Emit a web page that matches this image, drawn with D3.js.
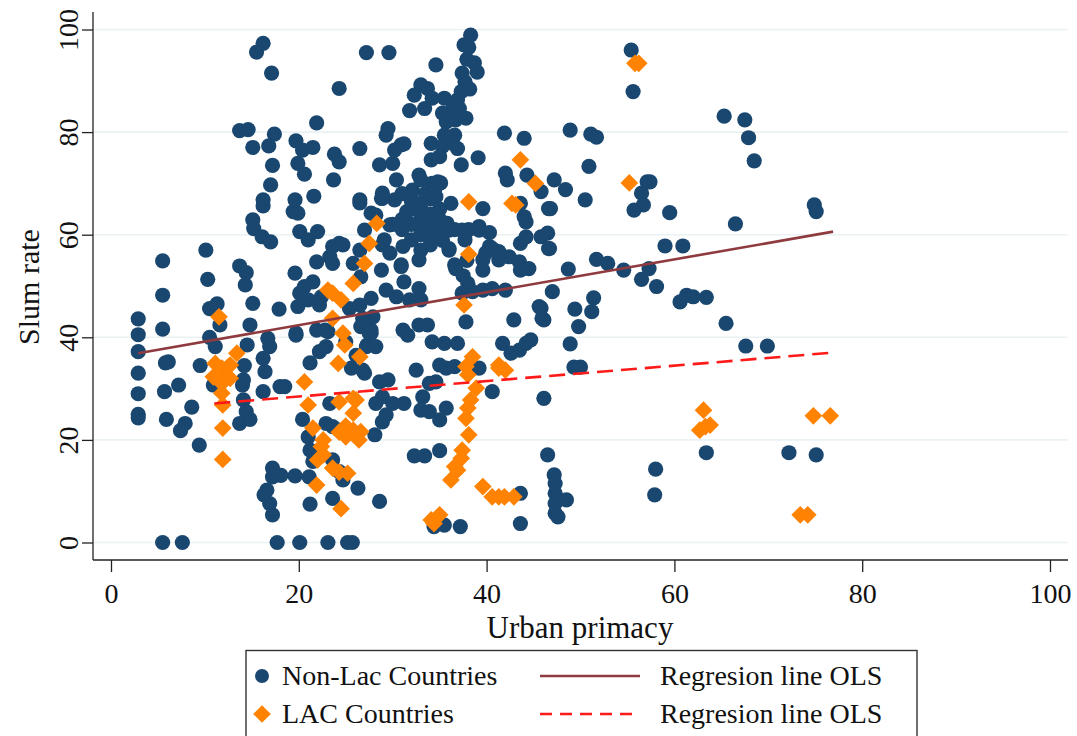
<!DOCTYPE html>
<html>
<head>
<meta charset="utf-8">
<script src="https://cdn.jsdelivr.net/npm/d3@7"></script>
<style>
    body { margin: 0; background: #fff; }
    svg { display: block; font-family: "Liberation Serif", "DejaVu Serif", serif; }
</style>
</head>
<body>
<div id="chart"></div>
<script>
// data: [urban primacy, slum rate]
const nonLac = [
    [2.9,43.6],[2.9,40.5],[2.9,37.2],[2.9,33],[2.9,29],[2.9,25],[2.9,24.3],
    [5.5,54.9],[5.5,48.2],[5.5,41.6],[5.8,35],[6.1,35.2],[5.7,29.4],[7.2,30.7],[5.9,24],[8.6,26.4],[7.9,23.2],[7.4,21.8],[9.4,19],
    [5.5,0],[7.6,0],[17.7,0],[20.1,0],[23.1,0],[25.2,0],[25.7,0],
    [17.2,14.5],[17.2,12.8],[18.1,13.1],[19.6,13],[21.1,12.8],[16.6,10.2],[16.3,9.3],[16.9,7.6],[17.2,5.4],[21.2,7.5],[23.6,8.6],
    [20.4,24],[21,20.6],[21.2,18],[22.9,23.2],[23.6,22.6],[24.3,21.9],[23.3,27.1],[21.5,15.8],[23.6,16.1],[24.3,13.8],
    [14,30.7],[14.1,27.8],[14.4,25.5],[13.7,23.2],[14.8,24],[16.2,29.4],
    [10.1,57],[10.3,51.3],[10.5,45.6],[11.3,46.5],[11.6,42.4],[10.5,40],[11.1,38.2],[9.5,34.5],[10.9,30.7],
    [13.7,53.9],[14.4,52.6],[14.3,50.2],[15.1,46.6],[14.8,42.4],[14.5,38.5],[14.2,34.5],[14.1,31.7],
    [16.2,65.6],[15.1,62.9],[15.2,61.2],[16.1,59.6],[17,58.6],
    [17.9,45.5],[19.7,40.4],[16.9,38.2],[16.7,39.8],[16.2,35.9],[16.4,33.3],[18,30.4],[18.5,30.4],[21.2,35],[22.2,37.2],[23.1,41.1],[22.9,38.2],
    [19.4,64.5],[19.9,64.2],[20.1,60.6],[21,59],[22,60.6],[21.9,54.7],[23.6,57.7],[24.3,58.3],[23.3,55.7],[23.6,54.4],
    [20.1,48.6],[20.6,49.9],[21,47.3],[21.5,50.8],[22.2,46.3],[22.4,47.9],[19.9,46],[19.7,40.8],
    [16.2,97.3],[15.5,95.6],[17.1,91.5],[24.3,88.5],[13.7,80.3],[14.6,80.5],[17.4,79.6],[15.1,77],[16.8,77.3],[19.7,78.3],
    [20.4,76.5],[21.5,77],[21.9,81.8],[17.2,73.5],[19.9,73.9],[20.6,71.8],[23.8,75.7],[24.3,74.2],[23.7,70.7],[17,69.7],
    [21.6,67.5],[16.2,66.8],[19.6,66.8],
    [38.3,98.9],[37.6,97],[38.1,96.5],[37.9,94.2],[38.7,93.5],[39,91.7],[37.4,91.5],[37.7,89.8],[38.2,88.4],[37.3,87.9],
    [36.9,86.3],[37.1,84.6],[37.8,82.7],[36.7,82.4],[36.4,84.6],
    [27.2,95.5],[29.6,95.5],[34.6,93.1],
    [33,89.2],[33.7,88.5],[32.3,87.2],[33.4,84.6],[31.8,84.2],[34.2,86.6],[35.5,86.6],[35.3,83.7],[35.7,82],[36.6,79.4],[35.5,79.4],
    [29.5,80.7],[29.3,79.4],[30.9,77.5],[30.2,76.5],[34.1,77.8],[35.3,77.2],[36.9,76.8],[26.5,76.8],[39.1,75],[28.6,73.6],
    [30,73.9],[34.1,74.6],[35,75.2],[37.3,73.6],[30.4,70.7],[32.8,71.6],[34.2,70],[35.1,70.1],[28.9,68.1],[32.1,68.7],[26.5,66.8],
    [41.9,79.8],[44,78.8],[42.2,70.7],[44.3,71.6],[47.2,70.7],[45.8,68.4],
    [31.2,77.7],[33,70.7],[34.8,70.3],[36.4,77.8],[42,72],[28.8,67.1],[30.2,66.8],[36.2,66.1],[39.6,65.1],[34.6,67.4],
    [28.2,63.8],[29.7,61.9],[36,60.9],[37.4,60.9],[39.2,61.6],[35.3,58.9],[36,57],[40.3,57.7],[39.6,55.1],[41.3,55.1],
    [31.1,57.7],[29.1,59],[30.9,54.1],[32.8,55.1],[36.6,54.1],
    [31,68],[32,67],[33,66],[34,67],[32,65],[33,64],[34,64],[35,65],[31,63],[32,62],[33,62],[34,62],[35,63],
    [33,60],[34,60],[32,59],[34,58],[33,57],[35,61],[31,61],[30,62],[32,66.5],[33.5,68],[34.5,69],[31.5,64.5],
    [26.5,66.2],[28.9,67.1],[35.8,62.2],[36.6,61],[38.1,61],[39.2,60.9],[40.3,60.4],[35.1,59.3],[36,57.3],[36.7,53.4],
    [39.6,53.1],[39.9,56.4],[40.6,57.3],[41.3,56.7],[42.4,55.7],[43.5,54.7],[44.5,53.4],[43.6,53.1],[43.6,58.3],[44.2,59.6],
    [45.8,59.6],[46.5,60.3],[46.6,57.3],[46.6,65.1],[44,63.5],[44.2,62.5],[43.6,66.1],
    [37.7,59],[37.9,55],[37.5,52],[38,50.5],
    [24.7,58],[26.5,57],[27,60.9],[27.7,64.2],[28.9,58],[29.7,56.4],[30.9,53.8],[28.8,53.1],[31.2,50.8],[32.8,49.5],
    [29.3,49.2],[30.4,47.9],[31.8,47.3],[33,47.3],[27.7,47.6],[26.5,46.3],[25.4,45.6],[26.8,43.7],[27.9,44],[27.7,41.4],
    [26.6,42.1],[27.3,38.5],
    [31.1,41.4],[31.6,40.4],[32.8,42.4],[33.7,42.4],[34.2,39.1],[35.5,38.8],[36.9,38.8],[37.8,43],[37.4,48.6],[38.5,48.9],
    [39.6,49.2],[40.6,49.5],[42,49.2],[42.9,43.4],[41.7,38.8],[42.6,36.9],[43.5,37.5],[44.2,38.8],[44.7,39.5],[45.6,46],
    [45.9,43.7],[47,48.9],[27.2,38.2],[27.5,40.8],
    [25.6,34],[27,33],[28.6,31.3],[29.5,31.7],[28.2,27.1],[28.9,28.4],[29.3,24.9],[28.9,23.5],[30,27.1],[31.2,27.1],
    [32.5,33.6],[33.2,28.4],[33,25.8],[33.9,25.5],[35,23.9],[35.7,26.2],[34.6,31.3],[33.9,31],[35,34.6],[35.7,34],
    [36.6,34.3],[39.2,34],[40.6,29.4],[46.1,28.1],
    [28.1,21],[32.3,16.9],[33.4,16.9],[35,17.9],[26.3,10.6],[28.6,8],[34.4,3.1],[35.5,3.4],[37.2,3.1],[43.6,9.6],
    [43.6,3.7],[46.5,17.1],[47.2,13.2],[47.3,11.5],[47.3,9.6],[47.3,7.6],[47.3,5.7],[24.7,12.2],
    [55.4,96],[55.6,87.9],[48.9,80.4],[51.1,79.6],[51.7,79],[50.9,73.3],[48.4,68.8],[46.8,65.1],[50.5,66.8],[57.1,70.3],
    [57.4,70.3],[56.5,68.1],[56.7,65.8],[55.7,64.8],[59.5,64.3],[65.3,83.1],[67.5,82.4],[67.9,78.9],[68.5,74.4],[74.9,65.8],
    [75.1,64.5],[66.5,62.1],[59,57.8],[60.9,57.8],[46.7,57.3],[48.7,53.3],[51.7,55.2],[52.9,54.4],[54.6,53.1],[56.5,51.3],
    [57.3,53.4],[58.1,49.9],[45.8,45.7],[46.1,43.4],[49.4,45.5],[51.4,47.7],[51.2,45],[49.8,42.1],[48.9,38.7],[49.3,34.2],
    [50,34.2],[60.6,46.9],[61.3,48.2],[62,47.9],[63.4,47.8],[65.5,42.7],[67.6,38.3],[69.9,38.3],[48.5,8.3],[47.6,5],
    [58,14.3],[57.9,9.3],[63.4,17.5],[72.2,17.5],[75.1,17.1],
    [19.6,52.5],[21.9,41.4],[22.8,41.4],[25.8,54.4],[26.6,51.8],[25,39.1],[26.1,36.5],[27.7,40.8],[28.2,38.2],[26.8,33.6]
]

const lac = [
    [11.5,44],[11.1,34.9],[13.4,36.9],[11.8,34],[12.7,34.6],[10.9,32.3],[12,32],[11.8,29.1],[11.9,26.8],[11.9,22.3],
    [11.9,16.2],[12.5,34.3],[11.8,31],[12.7,32],
    [20.6,31.3],[21,26.8],[21.5,22.3],[22.4,18.7],
    [23.1,49.2],[23.6,48.6],[24.5,47.3],[23.6,43.7],[24.7,40.8],[24.9,38.5],[24.2,34.9],[25.8,50.5],[27,54.4],[26.5,36.2],
    [24.3,27.4],[26.1,27.8],[25.8,25.2],[25.8,21.9],[26.6,21.6],[25,20.6],[22.6,20],
    [22,16.1],[22.6,17.1],[21.9,11.2],[24.5,6.6],[23.6,14.5],[24.3,13.7],[25,22.7],[25.9,21],[26.4,20],[24.3,21.5],
    [28.3,62.2],[27.5,58.3],
    [38.1,66.4],[42.7,66.1],[43.1,65.8],[38.1,56.2],[37.6,46.3],[38.5,36.2],[37.8,34.3],[41.3,34.6],
    [43.6,74.6],[45.2,70],
    [56.2,93.4],[55.8,93.4],[55.2,70.1],[63.1,25.8],[63.3,22.6],[62.7,21.9],[63.8,22.9],[74.8,24.7],[76.6,24.7],[73.4,5.4],[74.2,5.4],
    [41.3,34],[42,33.6],[38,32.7],[38.9,30.1],[38.3,27.8],[38,26.2],[37.8,24.2],[38.1,21],[37.4,18],[37.3,16.4],
    [36.6,14.8],[36.9,14.1],[36.2,12.2],[39.6,10.9],[40.6,8.9],[41.3,8.9],[41.9,8.9],[42.9,8.9],[35,5.4],[34.4,3.7],
    [34.1,4.4],[25.8,28.1],[25.2,13.5]
]

// fitted lines, end points
const olsNonLac = [[2.9,36.9],[76.9,60.6]]
const olsLac = [[11.0,27.1],[76.8,37.0]]

const xTicks = [0, 20, 40, 60, 80, 100]
const yTicks = [0, 20, 40, 60, 80, 100]
const xTitle = "Urban primacy"
const yTitle = "Slum rate"
const legendNames = ["Non-Lac Countries", "LAC Countries"]
const legendLines = ["Regresion line OLS", "Regresion line OLS"]

// constants
const width = 1077
const height = 736
const blue = "#1a476f"
const orange = "#ff8200"
const maroon = "#8e3a3f"
const red = "#ff1a1a"
const grid = "#eaf2f3"

const svg = d3.select("#chart")
    .append("svg")
        .attr("width", width)
        .attr("height", height)

const x = d3.scaleLinear()
    .domain([0, 100])
    .range([111, 1050])
const y = d3.scaleLinear()
    .domain([0, 100])
    .range([542.5, 29.5])

const axisLeftX = 93
const axisBottomY = 560

// gridlines
svg.append("g")
    .selectAll("line")
    .data(yTicks)
    .join("line")
        .attr("x1", axisLeftX)
        .attr("x2", 1068)
        .attr("y1", d => y(d))
        .attr("y2", d => y(d))
        .attr("stroke", grid)
        .attr("stroke-width", 1.6)

// x axis
const gx = svg.append("g")
    .attr("transform", `translate(0, ${axisBottomY})`)
    .call(d3.axisBottom(x)
        .tickValues(xTicks)
        .tickSize(12)
        .tickFormat(d3.format("d")))
gx.select(".domain").remove()
gx.selectAll(".tick line").attr("stroke", "#222").attr("stroke-width", 1.3)
gx.selectAll(".tick text")
    .attr("y", 43)
    .attr("dy", null)
    .attr("fill", "#111")
    .style("font-size", "28px")
    .style("font-family", "Liberation Serif, serif")
svg.append("line")
    .attr("x1", axisLeftX)
    .attr("x2", 1068)
    .attr("y1", axisBottomY)
    .attr("y2", axisBottomY)
    .attr("stroke", "#222")
    .attr("stroke-width", 1.3)

// y axis
const gy = svg.append("g")
    .attr("transform", `translate(${axisLeftX}, 0)`)
    .call(d3.axisLeft(y)
        .tickValues(yTicks)
        .tickSize(11)
        .tickFormat(d3.format("d")))
gy.select(".domain").remove()
gy.selectAll(".tick line").attr("stroke", "#222").attr("stroke-width", 1.3)
gy.selectAll(".tick text")
    .attr("transform", "rotate(-90)")
    .attr("x", 0)
    .attr("y", -15)
    .attr("dy", null)
    .attr("text-anchor", "middle")
    .attr("fill", "#111")
    .style("font-size", "28px")
    .style("font-family", "Liberation Serif, serif")
svg.append("line")
    .attr("x1", axisLeftX)
    .attr("x2", axisLeftX)
    .attr("y1", 12)
    .attr("y2", axisBottomY)
    .attr("stroke", "#222")
    .attr("stroke-width", 1.3)

// axis titles
svg.append("text")
    .attr("x", 580)
    .attr("y", 638)
    .attr("text-anchor", "middle")
    .attr("fill", "#111")
    .style("font-size", "31px")
    .text(xTitle)
svg.append("text")
    .attr("transform", "translate(39, 287) rotate(-90)")
    .attr("text-anchor", "middle")
    .attr("fill", "#111")
    .style("font-size", "30px")
    .text(yTitle)

// scatter
const diamond = d3.symbol().type(d3.symbolDiamond2).size(200)

svg.append("g")
    .selectAll("circle")
    .data(nonLac)
    .join("circle")
        .attr("cx", d => x(d[0]))
        .attr("cy", d => y(d[1]))
        .attr("r", 7.6)
        .attr("fill", blue)

svg.append("g")
    .selectAll("path")
    .data(lac)
    .join("path")
        .attr("transform", d => `translate(${x(d[0])}, ${y(d[1])})`)
        .attr("d", diamond)
        .attr("fill", orange)

// regression lines
const line = d3.line()
    .x(d => x(d[0]))
    .y(d => y(d[1]))

svg.append("path")
    .attr("d", line(olsNonLac))
    .attr("stroke", maroon)
    .attr("stroke-width", 2.6)
    .attr("fill", "none")

svg.append("path")
    .attr("d", line(olsLac))
    .attr("stroke", red)
    .attr("stroke-width", 2.6)
    .attr("stroke-dasharray", "16,8")
    .attr("fill", "none")

// legend
const legend = svg.append("g")
legend.append("rect")
    .attr("x", 246)
    .attr("y", 650.5)
    .attr("width", 671)
    .attr("height", 120)
    .attr("fill", "#fff")
    .attr("stroke", "#333")
    .attr("stroke-width", 1.4)

const rowY = [676, 714]

legend.append("circle")
    .attr("cx", 262)
    .attr("cy", rowY[0])
    .attr("r", 7)
    .attr("fill", blue)
legend.append("path")
    .attr("transform", `translate(262, ${rowY[1]})`)
    .attr("d", diamond)
    .attr("fill", orange)

legend.append("line")
    .attr("x1", 540).attr("x2", 640)
    .attr("y1", rowY[0]).attr("y2", rowY[0])
    .attr("stroke", maroon)
    .attr("stroke-width", 2.6)
legend.append("line")
    .attr("x1", 540).attr("x2", 640)
    .attr("y1", rowY[1]).attr("y2", rowY[1])
    .attr("stroke", red)
    .attr("stroke-width", 2.6)
    .attr("stroke-dasharray", "12,8")

legend.selectAll("text.name")
    .data(legendNames)
    .join("text")
        .attr("class", "name")
        .attr("x", 282)
        .attr("y", (d, i) => rowY[i] + 9)
        .attr("fill", "#111")
        .style("font-size", "28px")
        .text(d => d)

legend.selectAll("text.fit")
    .data(legendLines)
    .join("text")
        .attr("class", "fit")
        .attr("x", 660)
        .attr("y", (d, i) => rowY[i] + 9)
        .attr("fill", "#111")
        .style("font-size", "28px")
        .text(d => d)
</script>
</body>
</html>
